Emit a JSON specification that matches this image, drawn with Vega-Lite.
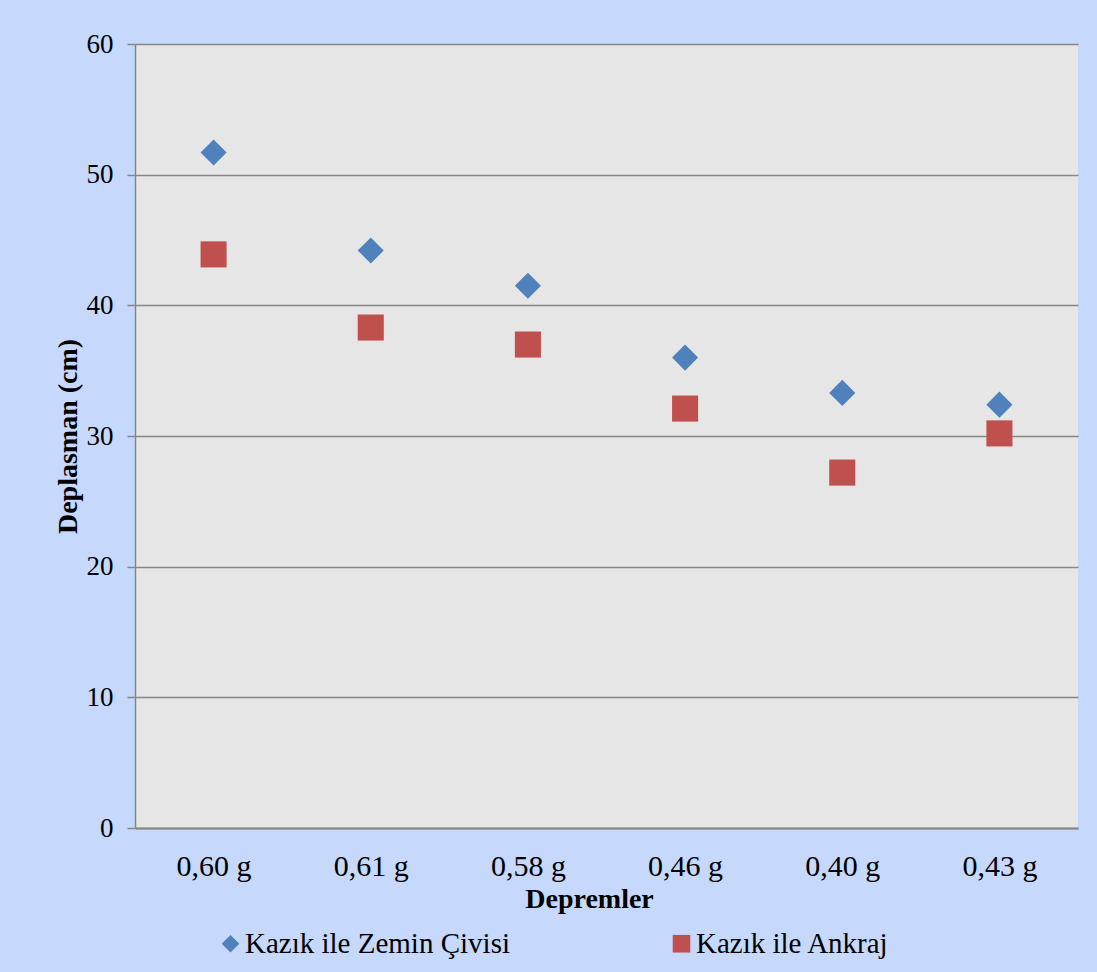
{
  "$schema": "https://vega.github.io/schema/vega-lite/v6.json",
  "width": 943,
  "height": 784,
  "autosize": {"type": "none"},
  "padding": {"left": 135, "top": 44, "right": 19, "bottom": 144},
  "background": "#c6d9fd",
  "config": {
    "font": "Liberation Serif",
    "view": {"fill": "#e6e6e6", "stroke": null}
  },
  "data": {
    "values": [
      {"deprem": "0,60 g", "seri": "Kazık ile Zemin Çivisi", "deplasman": 51.7},
      {"deprem": "0,61 g", "seri": "Kazık ile Zemin Çivisi", "deplasman": 44.2},
      {"deprem": "0,58 g", "seri": "Kazık ile Zemin Çivisi", "deplasman": 41.5},
      {"deprem": "0,46 g", "seri": "Kazık ile Zemin Çivisi", "deplasman": 36.0},
      {"deprem": "0,40 g", "seri": "Kazık ile Zemin Çivisi", "deplasman": 33.3},
      {"deprem": "0,43 g", "seri": "Kazık ile Zemin Çivisi", "deplasman": 32.4},
      {"deprem": "0,60 g", "seri": "Kazık ile Ankraj", "deplasman": 43.9},
      {"deprem": "0,61 g", "seri": "Kazık ile Ankraj", "deplasman": 38.3},
      {"deprem": "0,58 g", "seri": "Kazık ile Ankraj", "deplasman": 37.0},
      {"deprem": "0,46 g", "seri": "Kazık ile Ankraj", "deplasman": 32.1},
      {"deprem": "0,40 g", "seri": "Kazık ile Ankraj", "deplasman": 27.2},
      {"deprem": "0,43 g", "seri": "Kazık ile Ankraj", "deplasman": 30.2}
    ]
  },
  "mark": {"type": "point", "filled": true, "opacity": 1, "size": 680},
  "encoding": {
    "x": {
      "field": "deprem",
      "type": "nominal",
      "sort": ["0,60 g", "0,61 g", "0,58 g", "0,46 g", "0,40 g", "0,43 g"],
      "scale": {"type": "point", "padding": 0.5},
      "axis": {
        "title": "Depremler",
        "titleFontSize": 28,
        "titleFontWeight": "bold",
        "titleColor": "#000000",
        "titlePadding": 4,
        "titleX": 454,
        "labelAngle": 0,
        "labelFontSize": 30,
        "labelColor": "#000000",
        "labelPadding": 23,
        "ticks": false,
        "domainColor": "#868686",
        "domainWidth": 2,
        "grid": false
      }
    },
    "y": {
      "field": "deplasman",
      "type": "quantitative",
      "scale": {"domain": [0, 60], "nice": false},
      "axis": {
        "title": "Deplasman (cm)",
        "titleFontSize": 28,
        "titleFontWeight": "bold",
        "titleColor": "#000000",
        "titlePadding": 4,
        "values": [0, 10, 20, 30, 40, 50, 60],
        "labelFontSize": 27,
        "labelColor": "#000000",
        "labelPadding": 14,
        "tickSize": 8,
        "tickColor": "#868686",
        "tickWidth": 1.5,
        "domainColor": "#868686",
        "domainWidth": 1.5,
        "grid": true,
        "gridColor": "#868686",
        "gridWidth": 1.5
      }
    },
    "color": {
      "field": "seri",
      "type": "nominal",
      "scale": {"domain": ["Kazık ile Zemin Çivisi", "Kazık ile Ankraj"], "range": ["#4f81bd", "#c0504d"]},
      "legend": {
        "title": null,
        "orient": "none",
        "direction": "horizontal",
        "legendX": 81,
        "legendY": 885,
        "labelFontSize": 29,
        "labelColor": "#000000",
        "labelLimit": 400,
        "symbolSize": 310,
        "symbolOffset": 0,
        "labelOffset": 0,
        "columnPadding": 157
      }
    },
    "shape": {
      "field": "seri",
      "type": "nominal",
      "scale": {"domain": ["Kazık ile Zemin Çivisi", "Kazık ile Ankraj"], "range": ["diamond", "square"]}
    }
  }
}
